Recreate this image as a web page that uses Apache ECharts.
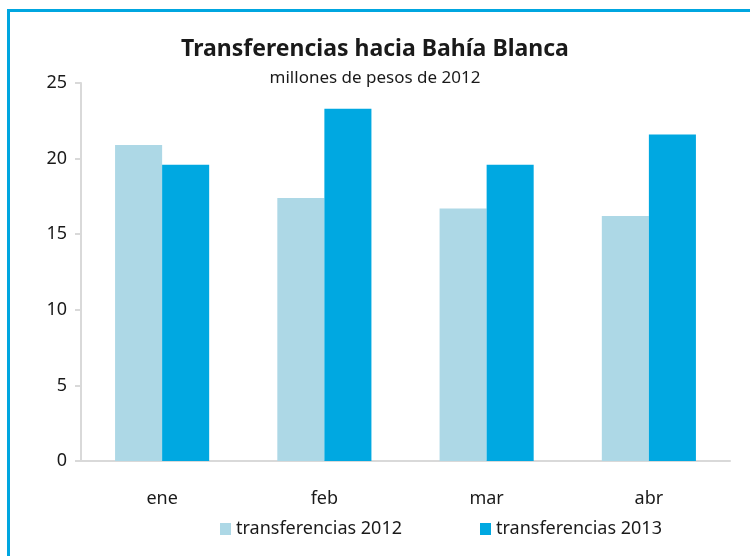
<!DOCTYPE html>
<html>
<head>
<meta charset="utf-8">
<script src="https://cdn.jsdelivr.net/npm/echarts@6/dist/echarts.min.js"></script>
<style>
  body { margin: 0; background: #fff; }
  #chart { position: absolute; left: 0; top: 0; width: 750px; height: 556px; }
  .frame {
    position: absolute; left: 7px; top: 9px; width: 800px; height: 600px;
    border-left: 3px solid #00a6e0; border-top: 3px solid #00a6e0;
  }
</style>
</head>
<body>
<div id="chart"></div>
<div class="frame"></div>
<script>
// datos
const meses = ['ene', 'feb', 'mar', 'abr'];
const transf2012 = [20.9, 17.4, 16.7, 16.2];
const transf2013 = [19.6, 23.3, 19.6, 21.6];

const fuente = '"Noto Sans", sans-serif';

var myChart = echarts.init(document.getElementById('chart'));
myChart.setOption({
    animation: false,
    title: {
        text: 'Transferencias hacia Bahía Blanca',
        subtext: 'millones de pesos de 2012',
        left: 'center',
        top: 33,
        itemGap: 9,
        textStyle: { fontFamily: fuente, fontSize: 23, fontWeight: 'bold', color: '#1a1a1a' },
        subtextStyle: { fontFamily: fuente, fontSize: 17, color: '#1a1a1a' }
    },
    legend: {
        left: 220,
        top: 520,
        padding: 0,
        icon: 'rect',
        itemWidth: 11,
        itemHeight: 12,
        itemGap: 78,
        textStyle: { fontFamily: fuente, fontSize: 18, color: '#1a1a1a' },
        data: ['transferencias 2012', 'transferencias 2013']
    },
    grid: { left: 81, right: 20, top: 83, bottom: 95 },
    xAxis: {
        type: 'category',
        data: meses,
        axisLine: { lineStyle: { color: '#d9d9d9', width: 2 } },
        axisTick: { length: 6, lineStyle: { color: '#d9d9d9', width: 2 } },
        axisLabel: { fontFamily: fuente, fontSize: 18, color: '#1a1a1a', margin: 29 }
    },
    yAxis: {
        type: 'value',
        min: 0,
        max: 25,
        interval: 5,
        splitLine: { show: false },
        axisLine: { show: true, lineStyle: { color: '#d9d9d9', width: 2 } },
        axisTick: { show: true, length: 6, lineStyle: { color: '#d9d9d9', width: 2 } },
        axisLabel: { fontFamily: fuente, fontSize: 18, color: '#1a1a1a', margin: 14 }
    },
    series: [
        {
            name: 'transferencias 2012',
            type: 'bar',
            data: transf2012,
            barGap: '0%',
            barCategoryGap: '42%',
            itemStyle: { color: '#add8e6' }
        },
        {
            name: 'transferencias 2013',
            type: 'bar',
            data: transf2013,
            itemStyle: { color: '#00a8e1' }
        }
    ]
});
</script>
</body>
</html>
